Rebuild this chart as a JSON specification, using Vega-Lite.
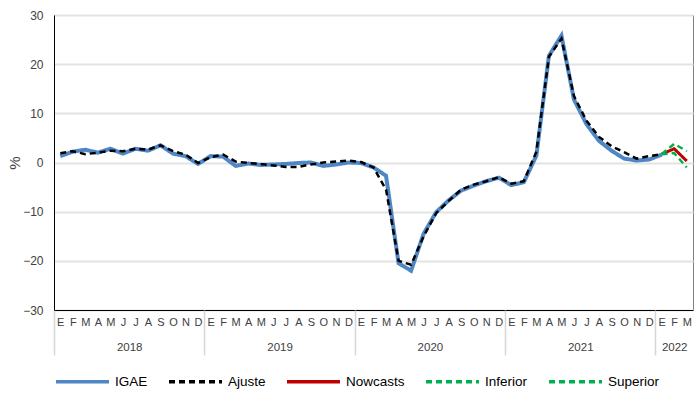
{
  "$schema": "https://vega.github.io/schema/vega-lite/v6.json",
  "width": 639,
  "height": 295,
  "autosize": {"type": "none"},
  "padding": {"left": 54, "top": 15, "right": 7, "bottom": 90},
  "config": {
    "font": "Liberation Sans",
    "view": {"stroke": "#808080", "strokeWidth": 1}
  },
  "data": {
    "values": [
      {"t": 0, "s": "IGAE", "v": 1.3}, {"t": 1, "s": "IGAE", "v": 2.2}, {"t": 2, "s": "IGAE", "v": 2.6}, {"t": 3, "s": "IGAE", "v": 2.0},
      {"t": 4, "s": "IGAE", "v": 2.8}, {"t": 5, "s": "IGAE", "v": 1.8}, {"t": 6, "s": "IGAE", "v": 2.8}, {"t": 7, "s": "IGAE", "v": 2.4},
      {"t": 8, "s": "IGAE", "v": 3.5}, {"t": 9, "s": "IGAE", "v": 1.8}, {"t": 10, "s": "IGAE", "v": 1.3}, {"t": 11, "s": "IGAE", "v": -0.3},
      {"t": 12, "s": "IGAE", "v": 1.3}, {"t": 13, "s": "IGAE", "v": 1.2}, {"t": 14, "s": "IGAE", "v": -0.7}, {"t": 15, "s": "IGAE", "v": -0.2},
      {"t": 16, "s": "IGAE", "v": -0.5}, {"t": 17, "s": "IGAE", "v": -0.4}, {"t": 18, "s": "IGAE", "v": -0.3}, {"t": 19, "s": "IGAE", "v": -0.1},
      {"t": 20, "s": "IGAE", "v": 0.0}, {"t": 21, "s": "IGAE", "v": -0.7}, {"t": 22, "s": "IGAE", "v": -0.4}, {"t": 23, "s": "IGAE", "v": 0.0},
      {"t": 24, "s": "IGAE", "v": -0.1}, {"t": 25, "s": "IGAE", "v": -1.0}, {"t": 26, "s": "IGAE", "v": -2.7}, {"t": 27, "s": "IGAE", "v": -20.5},
      {"t": 28, "s": "IGAE", "v": -22.0}, {"t": 29, "s": "IGAE", "v": -14.5}, {"t": 30, "s": "IGAE", "v": -10.1}, {"t": 31, "s": "IGAE", "v": -7.7},
      {"t": 32, "s": "IGAE", "v": -5.7}, {"t": 33, "s": "IGAE", "v": -4.7}, {"t": 34, "s": "IGAE", "v": -3.8}, {"t": 35, "s": "IGAE", "v": -3.1},
      {"t": 36, "s": "IGAE", "v": -4.6}, {"t": 37, "s": "IGAE", "v": -4.0}, {"t": 38, "s": "IGAE", "v": 1.4}, {"t": 39, "s": "IGAE", "v": 21.7},
      {"t": 40, "s": "IGAE", "v": 25.8}, {"t": 41, "s": "IGAE", "v": 12.8}, {"t": 42, "s": "IGAE", "v": 7.8}, {"t": 43, "s": "IGAE", "v": 4.4},
      {"t": 44, "s": "IGAE", "v": 2.4}, {"t": 45, "s": "IGAE", "v": 0.8}, {"t": 46, "s": "IGAE", "v": 0.4}, {"t": 47, "s": "IGAE", "v": 0.6},
      {"t": 48, "s": "IGAE", "v": 1.6},
      {"t": 0, "s": "Ajuste", "v": 1.9}, {"t": 1, "s": "Ajuste", "v": 2.3}, {"t": 2, "s": "Ajuste", "v": 1.7}, {"t": 3, "s": "Ajuste", "v": 2.0},
      {"t": 4, "s": "Ajuste", "v": 2.4}, {"t": 5, "s": "Ajuste", "v": 2.3}, {"t": 6, "s": "Ajuste", "v": 2.8}, {"t": 7, "s": "Ajuste", "v": 2.6},
      {"t": 8, "s": "Ajuste", "v": 3.5}, {"t": 9, "s": "Ajuste", "v": 2.3}, {"t": 10, "s": "Ajuste", "v": 1.6}, {"t": 11, "s": "Ajuste", "v": -0.1},
      {"t": 12, "s": "Ajuste", "v": 1.1}, {"t": 13, "s": "Ajuste", "v": 1.6}, {"t": 14, "s": "Ajuste", "v": 0.2}, {"t": 15, "s": "Ajuste", "v": -0.1},
      {"t": 16, "s": "Ajuste", "v": -0.3}, {"t": 17, "s": "Ajuste", "v": -0.6}, {"t": 18, "s": "Ajuste", "v": -0.9}, {"t": 19, "s": "Ajuste", "v": -0.9},
      {"t": 20, "s": "Ajuste", "v": -0.4}, {"t": 21, "s": "Ajuste", "v": 0.0}, {"t": 22, "s": "Ajuste", "v": 0.2}, {"t": 23, "s": "Ajuste", "v": 0.4},
      {"t": 24, "s": "Ajuste", "v": 0.1}, {"t": 25, "s": "Ajuste", "v": -1.0}, {"t": 26, "s": "Ajuste", "v": -5.5}, {"t": 27, "s": "Ajuste", "v": -20.0},
      {"t": 28, "s": "Ajuste", "v": -20.8}, {"t": 29, "s": "Ajuste", "v": -15.0}, {"t": 30, "s": "Ajuste", "v": -10.3}, {"t": 31, "s": "Ajuste", "v": -7.8},
      {"t": 32, "s": "Ajuste", "v": -5.5}, {"t": 33, "s": "Ajuste", "v": -4.5}, {"t": 34, "s": "Ajuste", "v": -3.8}, {"t": 35, "s": "Ajuste", "v": -3.0},
      {"t": 36, "s": "Ajuste", "v": -4.3}, {"t": 37, "s": "Ajuste", "v": -3.8}, {"t": 38, "s": "Ajuste", "v": 2.2}, {"t": 39, "s": "Ajuste", "v": 21.5},
      {"t": 40, "s": "Ajuste", "v": 25.2}, {"t": 41, "s": "Ajuste", "v": 13.5}, {"t": 42, "s": "Ajuste", "v": 8.5}, {"t": 43, "s": "Ajuste", "v": 5.2},
      {"t": 44, "s": "Ajuste", "v": 3.3}, {"t": 45, "s": "Ajuste", "v": 2.1}, {"t": 46, "s": "Ajuste", "v": 0.8}, {"t": 47, "s": "Ajuste", "v": 1.3},
      {"t": 48, "s": "Ajuste", "v": 1.7},
      {"t": 48, "s": "Nowcasts", "v": 1.7}, {"t": 49, "s": "Nowcasts", "v": 2.8}, {"t": 50, "s": "Nowcasts", "v": 0.3},
      {"t": 48, "s": "Inferior", "v": 1.7}, {"t": 49, "s": "Inferior", "v": 1.9}, {"t": 50, "s": "Inferior", "v": -1.0},
      {"t": 48, "s": "Superior", "v": 1.7}, {"t": 49, "s": "Superior", "v": 3.8}, {"t": 50, "s": "Superior", "v": 2.3}
    ]
  },
  "encoding": {
    "y": {
      "field": "v", "type": "quantitative",
      "scale": {"domain": [-30, 30], "nice": false, "zero": false},
      "axis": {
        "title": "%", "titleFontSize": 15, "titleFontWeight": "normal", "titleColor": "#404040", "titlePadding": 0,
        "values": [-30, -20, -10, 0, 10, 20, 30],
        "labelFontSize": 12, "labelColor": "#404040", "labelPadding": 11, "ticks": false,
        "grid": true, "gridColor": "#e3e3e3", "gridWidth": 2,
        "domainColor": "#000000", "domainWidth": 1
      }
    },
    "color": {
      "field": "s", "type": "nominal",
      "scale": {"domain": ["IGAE", "Ajuste", "Nowcasts", "Inferior", "Superior"], "range": ["#4f86c6", "#000000", "#c00000", "#00b050", "#00b050"]},
      "legend": {
        "title": null, "orient": "none", "legendX": 0, "legendY": 338, "direction": "horizontal",
        "symbolType": "stroke", "symbolSize": 2809, "symbolStrokeWidth": 3.5,
        "labelFontSize": 13.5, "labelColor": "#000000", "labelOffset": 4, "columnPadding": 14
      }
    },
    "strokeDash": {
      "field": "s", "type": "nominal",
      "scale": {"domain": ["IGAE", "Ajuste", "Nowcasts", "Inferior", "Superior"], "range": [[1, 0], [6, 4], [1, 0], [6, 4], [6, 4]]},
      "legend": {
        "title": null, "orient": "none", "legendX": 0, "legendY": 338, "direction": "horizontal",
        "symbolType": "stroke", "symbolSize": 2809, "symbolStrokeWidth": 3.5,
        "labelFontSize": 13.5, "labelColor": "#000000", "labelOffset": 4, "columnPadding": 14
      }
    }
  },
  "layer": [
    {
      "transform": [{"filter": "datum.s === 'IGAE'"}],
      "mark": {"type": "line", "strokeWidth": 4},
      "encoding": {
        "x": {
          "field": "t", "type": "quantitative",
          "scale": {"domain": [-0.5, 50.5], "nice": false, "zero": false},
          "axis": {
            "title": null, "values": [0,1,2,3,4,5,6,7,8,9,10,11,12,13,14,15,16,17,18,19,20,21,22,23,24,25,26,27,28,29,30,31,32,33,34,35,36,37,38,39,40,41,42,43,44,45,46,47,48,49,50],
            "labelExpr": "substring('EFMAMJJASOND', datum.value % 12, datum.value % 12 + 1)",
            "labelFontSize": 11, "labelColor": "#404040", "labelPadding": 6, "labelOverlap": false, "labelFlush": false,
            "ticks": false, "grid": false, "domainColor": "#000000", "domainWidth": 1
          }
        }
      }
    },
    {
      "transform": [{"filter": "datum.s === 'Ajuste'"}],
      "mark": {"type": "line", "strokeWidth": 2.5},
      "encoding": {
        "x": {
          "field": "t", "type": "quantitative",
          "scale": {"domain": [-0.5, 50.5], "nice": false, "zero": false},
          "axis": {
            "orient": "bottom", "title": null, "values": [5.5, 17.5, 29.5, 41.5, 49],
            "labelExpr": "'' + (2018 + floor(datum.value / 12))",
            "labelFontSize": 11.5, "labelColor": "#404040", "labelPadding": 31, "labelOverlap": false, "labelFlush": false,
            "ticks": false, "grid": false, "domain": false
          }
        }
      }
    },
    {
      "transform": [{"filter": "datum.s === 'Nowcasts'"}],
      "mark": {"type": "line", "strokeWidth": 3},
      "encoding": {
        "x": {
          "field": "t", "type": "quantitative",
          "scale": {"domain": [-0.5, 50.5], "nice": false, "zero": false},
          "axis": {
            "orient": "bottom", "title": null, "values": [-0.5, 11.5, 23.5, 35.5, 47.5],
            "labels": false, "ticks": true, "tickSize": 45, "tickColor": "#d6d6d6", "tickWidth": 1.5,
            "grid": false, "domain": false
          }
        }
      }
    },
    {
      "transform": [{"filter": "datum.s === 'Inferior' || datum.s === 'Superior'"}],
      "mark": {"type": "line", "strokeWidth": 2.5},
      "encoding": {
        "x": {
          "field": "t", "type": "quantitative",
          "scale": {"domain": [-0.5, 50.5], "nice": false, "zero": false},
          "axis": null
        }
      }
    }
  ],
  "resolve": {"axis": {"x": "independent"}}
}
